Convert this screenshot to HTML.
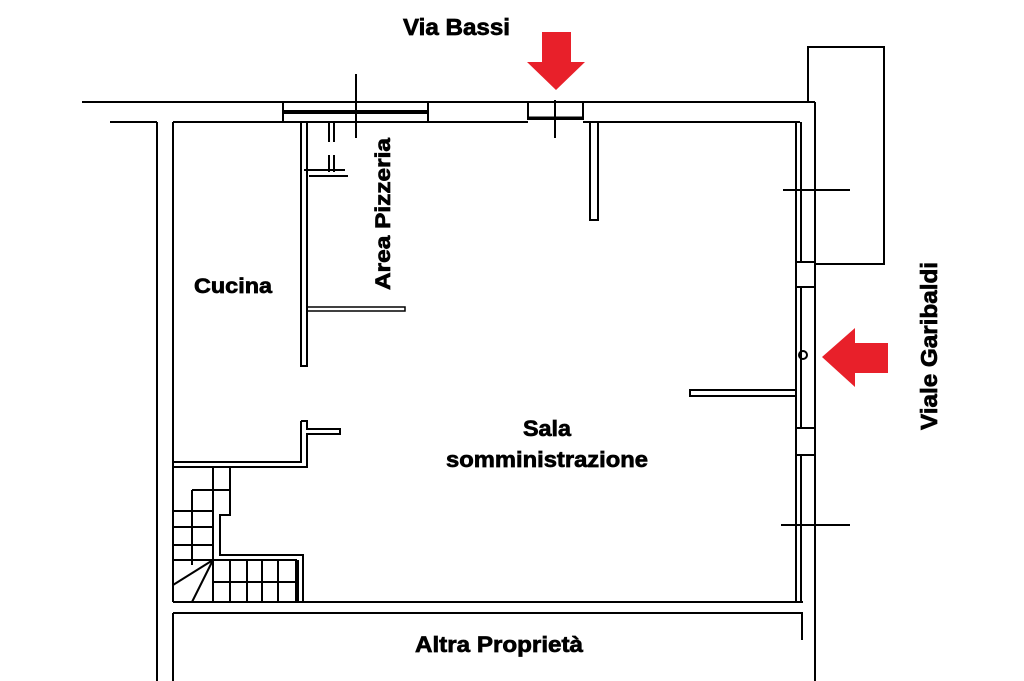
<!DOCTYPE html>
<html><head><meta charset="utf-8"><style>
html,body{margin:0;padding:0;background:#fff;}
svg{display:block;}
text{font-family:"Liberation Sans",Arial,sans-serif;font-weight:bold;fill:#000;stroke:#000;stroke-width:0.7;}
</style></head><body>
<svg width="1024" height="681" viewBox="0 0 1024 681" xmlns="http://www.w3.org/2000/svg">
<g stroke="#000" stroke-width="2" fill="none">
<line x1="82" y1="102" x2="815" y2="102"/>
<line x1="110" y1="122" x2="157" y2="122"/>
<line x1="173" y1="122" x2="283" y2="122"/>
<line x1="428" y1="122" x2="528" y2="122"/>
<line x1="583" y1="122" x2="800" y2="122"/>
<line x1="157" y1="122" x2="157" y2="681"/>
<line x1="173" y1="122" x2="173" y2="602"/>
<line x1="173" y1="613" x2="173" y2="681"/>
<rect x="283" y="102" width="145" height="20"/>
<line x1="283" y1="112" x2="428" y2="112" stroke-width="4"/>
<line x1="356" y1="74" x2="356" y2="138"/>
<line x1="329" y1="122" x2="329" y2="142"/>
<line x1="334" y1="122" x2="334" y2="142"/>
<line x1="329" y1="155" x2="329" y2="172"/>
<line x1="334" y1="155" x2="334" y2="172"/>
<line x1="304" y1="170" x2="345" y2="170"/>
<line x1="309" y1="176" x2="348" y2="176"/>
<rect x="528" y="102" width="55" height="17"/>
<line x1="528" y1="118" x2="583" y2="118" stroke-width="3"/>
<line x1="555" y1="100" x2="555" y2="138"/>
<rect x="590" y="122" width="8" height="98"/>
<rect x="301" y="122" width="6" height="244"/>
<rect x="307" y="307" width="98" height="4" stroke-width="1.5"/>
<path d="M301 421 L307 421 L307 429 L340 429 L340 434 L307 434 L307 467 L173 467 M173 462 L301 462 L301 421"/>
<line x1="213" y1="467" x2="213" y2="602"/>
<path d="M230 467 L230 515 L220 515 L220 555 L303 555 L303 602"/>
<path d="M297 560 L297 602" stroke-width="4"/>
<line x1="192" y1="490" x2="230" y2="490"/>
<line x1="192" y1="490" x2="192" y2="565"/>
<line x1="173" y1="511" x2="213" y2="511"/>
<line x1="173" y1="527" x2="213" y2="527"/>
<line x1="173" y1="545" x2="213" y2="545"/>
<line x1="173" y1="560" x2="297" y2="560"/>
<line x1="213" y1="582" x2="297" y2="582"/>
<line x1="230" y1="560" x2="230" y2="602"/>
<line x1="247" y1="560" x2="247" y2="602"/>
<line x1="262" y1="560" x2="262" y2="602"/>
<line x1="278" y1="560" x2="278" y2="602"/>
<line x1="213" y1="560" x2="173" y2="585"/>
<line x1="213" y1="560" x2="192" y2="602"/>
<line x1="173" y1="602" x2="803" y2="602"/>
<path d="M173 613 L802 613 L802 640"/>
<line x1="815" y1="102" x2="815" y2="681"/>
<line x1="796" y1="122" x2="796" y2="602"/>
<line x1="801" y1="122" x2="801" y2="262"/>
<line x1="801" y1="287" x2="801" y2="428"/>
<line x1="801" y1="455" x2="801" y2="602"/>
<line x1="796" y1="262" x2="815" y2="262"/>
<line x1="796" y1="287" x2="815" y2="287"/>
<line x1="796" y1="428" x2="815" y2="428"/>
<line x1="796" y1="455" x2="815" y2="455"/>
<path d="M808 102 L808 47 L884 47 L884 264 L815 264"/>
<line x1="783" y1="190" x2="850" y2="190"/>
<line x1="781" y1="525" x2="850" y2="525"/>
<rect x="690" y="390" width="106" height="6"/>
<circle cx="803" cy="355" r="4"/>
</g>
<polygon points="542,32 571,32 571,62 585,62 556,90 527,62 542,62" fill="#e8202a"/>
<polygon points="822,357 855,328 855,343 888,343 888,373 855,373 855,387" fill="#e8202a"/>
<text x="403" y="35" font-size="23" textLength="107" lengthAdjust="spacingAndGlyphs">Via Bassi</text>
<text x="194" y="293" font-size="21" textLength="78" lengthAdjust="spacingAndGlyphs">Cucina</text>
<text transform="translate(390,290) rotate(-90)" font-size="21" textLength="152" lengthAdjust="spacingAndGlyphs">Area Pizzeria</text>
<text x="523" y="436" font-size="22" textLength="48" lengthAdjust="spacingAndGlyphs">Sala</text>
<text x="446" y="467" font-size="22" textLength="202" lengthAdjust="spacingAndGlyphs">somministrazione</text>
<text x="415" y="652" font-size="22" textLength="168" lengthAdjust="spacingAndGlyphs">Altra Proprietà</text>
<text transform="translate(937,430) rotate(-90)" font-size="23" textLength="168" lengthAdjust="spacingAndGlyphs">Viale Garibaldi</text>
</svg>
</body></html>
